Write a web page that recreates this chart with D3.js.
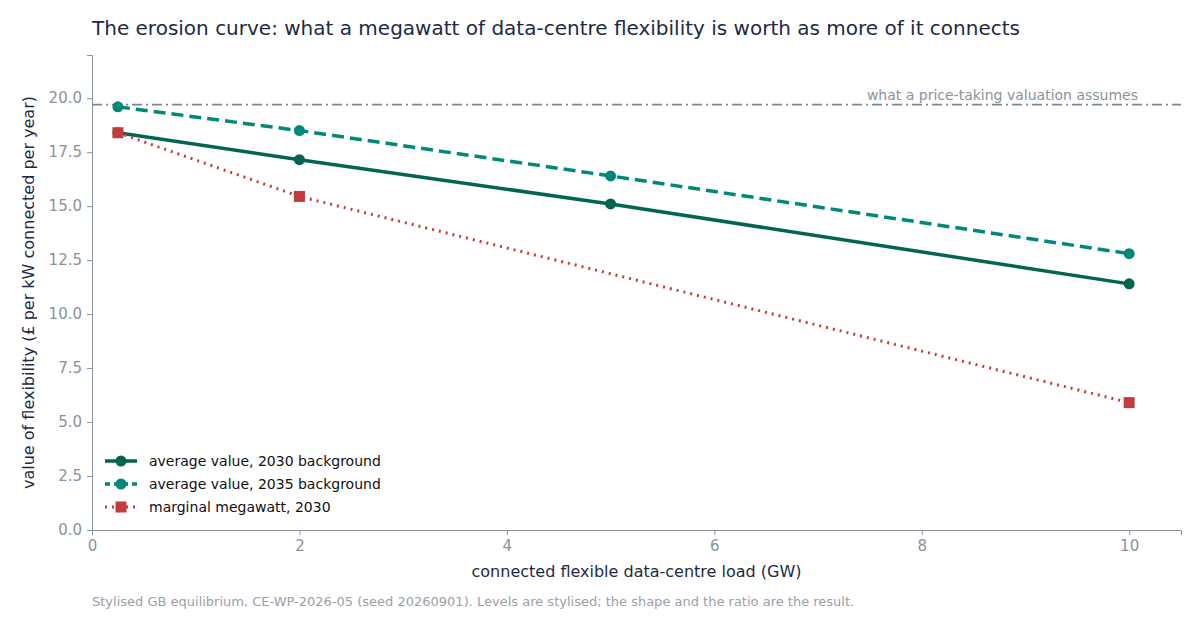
<!DOCTYPE html>
<html><head><meta charset="utf-8">
<script src="https://cdn.jsdelivr.net/npm/d3@7"></script>
<style>body{margin:0;background:#fff;font-family:"DejaVu Sans",sans-serif}</style>
</head><body><svg id="c" width="1200" height="630"></svg>
<script>
const loadGW = [0.25, 2, 5, 10];
const avg2030 = [18.4, 17.15, 15.1, 11.4];
const avg2035 = [19.6, 18.5, 16.4, 12.8];
const marginalGW = [0.25, 2, 10];
const marginal2030 = [18.4, 15.45, 5.9];
const priceTaking = 19.7;
const xTicks = [0, 2, 4, 6, 8, 10];
const yTicks = [0, 2.5, 5, 7.5, 10, 12.5, 15, 17.5, 20];

const svg = d3.select("#c");
const m = {l: 92, r: 1181, t: 55, b: 530};
const x = d3.scaleLinear().domain([0, 10.5]).range([m.l, m.r]);
const y = d3.scaleLinear().domain([0, 22]).range([m.b, m.t]);
const axisCol = "#8a929c", textCol = "#1e2a44";

svg.append("text").attr("x", 92).attr("y", 35).attr("font-size", 20).attr("fill", textCol)
  .text("The erosion curve: what a megawatt of data-centre flexibility is worth as more of it connects");

const gx = svg.append("g").attr("transform", `translate(0,${m.b})`)
  .call(d3.axisBottom(x).tickValues(xTicks).tickSize(5).tickPadding(5));
const gy = svg.append("g").attr("transform", `translate(${m.l},0)`)
  .call(d3.axisLeft(y).tickValues(yTicks).tickFormat(d3.format(".1f")).tickSize(5).tickPadding(5));
[gx, gy].forEach(g => {
  g.selectAll("path,line").attr("stroke", axisCol);
  g.selectAll("text").attr("font-size", 15).attr("fill", axisCol).attr("font-family", "DejaVu Sans");
});

svg.append("text").attr("x", (m.l + m.r) / 2).attr("y", 577).attr("text-anchor", "middle")
  .attr("font-size", 16).attr("fill", textCol).text("connected flexible data-centre load (GW)");
svg.append("text").attr("transform", `translate(34,${(m.t + m.b) / 2}) rotate(-90)`).attr("text-anchor", "middle")
  .attr("font-size", 16).attr("fill", textCol).text("value of flexibility (£ per kW connected per year)");
svg.append("text").attr("x", 92).attr("y", 606).attr("font-size", 13).attr("fill", "#9aa0a8")
  .text("Stylised GB equilibrium, CE-WP-2026-05 (seed 20260901). Levels are stylised; the shape and the ratio are the result.");

svg.append("line").attr("x1", m.l).attr("x2", m.r).attr("y1", y(priceTaking)).attr("y2", y(priceTaking))
  .attr("stroke", "#7d858f").attr("stroke-width", 1.6).attr("stroke-dasharray", "10,4,2,4");
svg.append("text").attr("x", 1138).attr("y", y(priceTaking) - 5).attr("text-anchor", "end")
  .attr("font-size", 14).attr("fill", "#8a929c").text("what a price-taking valuation assumes");

const line = d3.line().x(d => x(d[0])).y(d => y(d[1]));
const series = [
  {xs: loadGW, ys: avg2030, col: "#00664f", dash: null, w: 3.5, sq: false, label: "average value, 2030 background"},
  {xs: loadGW, ys: avg2035, col: "#00897b", dash: "12,6", w: 3.5, sq: false, label: "average value, 2035 background"},
  {xs: marginalGW, ys: marginal2030, col: "#c53a3a", dash: "2,5", w: 3, sq: true, label: "marginal megawatt, 2030"}
];
series.forEach(s => {
  const pts = s.xs.map((v, i) => [v, s.ys[i]]);
  svg.append("path").attr("d", line(pts)).attr("fill", "none").attr("stroke", s.col)
    .attr("stroke-width", s.w).attr("stroke-dasharray", s.dash);
  pts.forEach(p => {
    if (s.sq) svg.append("rect").attr("x", x(p[0]) - 5.5).attr("y", y(p[1]) - 5.5).attr("width", 11).attr("height", 11).attr("fill", s.col);
    else svg.append("circle").attr("cx", x(p[0])).attr("cy", y(p[1])).attr("r", 5.5).attr("fill", s.col);
  });
});

const lg = svg.append("g").attr("transform", "translate(105,461)");
series.forEach((s, i) => {
  const gy0 = i * 23;
  lg.append("line").attr("x1", 0).attr("x2", 32).attr("y1", gy0).attr("y2", gy0).attr("stroke", s.col)
    .attr("stroke-width", s.w).attr("stroke-dasharray", s.dash ? (s.sq ? "2,5" : "5,4") : null);
  if (s.sq) lg.append("rect").attr("x", 10.5).attr("y", gy0 - 5.5).attr("width", 11).attr("height", 11).attr("fill", s.col);
  else lg.append("circle").attr("cx", 16).attr("cy", gy0).attr("r", 5.5).attr("fill", s.col);
  lg.append("text").attr("x", 44).attr("y", gy0 + 5).attr("font-size", 14).attr("fill", "#111").text(s.label);
});
</script></body></html>
